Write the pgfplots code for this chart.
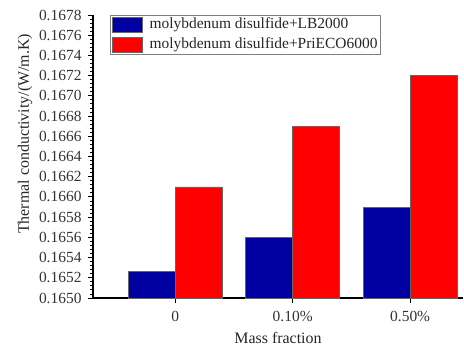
\documentclass[border=0pt]{standalone}
\usepackage{pgfplots}
\pgfplotsset{compat=1.18}
\usepackage{fontspec}
\setmainfont{Liberation Serif}
\definecolor{barblue}{RGB}{0,0,160}
\definecolor{barred}{RGB}{255,0,0}
\begin{document}
\begin{tikzpicture}
\path[use as bounding box] (-93bp,-49bp) rectangle (371bp,298bp);
\begin{axis}[
  scale only axis, width=370bp, height=283bp,
  ybar=0pt, bar width=0.4,
  xmin=-0.7, xmax=2.45, ymin=0.1650, ymax=0.1678,
  axis x line*=bottom, axis y line*=left,
  axis line style={line width=1.1pt},
  xtick={0,1,2}, xticklabels={0,0.10\%,0.50\%},
  ytick={0.1650,0.1652,0.1654,0.1656,0.1658,0.1660,0.1662,0.1664,0.1666,0.1668,0.1670,0.1672,0.1674,0.1676,0.1678},
  minor y tick num=4,
  tick align=outside,
  major tick length=5bp, minor tick length=3bp,
  tick style={line width=0.9pt, black},
  scaled y ticks=false,
  yticklabel style={/pgf/number format/fixed, /pgf/number format/fixed zerofill, /pgf/number format/precision=4, /pgf/number format/assume math mode=true, xshift=-3bp},
  tick label style={font=\fontsize{15.5}{17}\selectfont, text=black!80},
  xticklabel style={yshift=-5bp},
  xlabel={Mass fraction},
  ylabel={Thermal conductivity/(W/m.K)},
  label style={font=\fontsize{16}{18}\selectfont, text=black!85},
  xlabel style={at={(axis description cs:0.5,0)}, anchor=center, yshift=-40bp},
  ylabel style={at={(-68bp,0.58)}, anchor=center, rotate=0},
  legend style={at={(rel axis cs:0.046,1)}, anchor=north west, draw=black!50, line width=0.6pt,
    font=\fontsize{15.5}{16}\selectfont, text=black!85, inner xsep=2bp, inner ysep=2bp,
    row sep=4bp, cells={anchor=west},
    nodes={inner sep=0.8bp, text height=10.5bp, text depth=3.5bp}},
  legend image code/.code={\draw[#1] (0bp,-7.5bp) rectangle (30bp,7.5bp); \path (36bp,0bp);},
]
\addplot[fill=barblue, draw=black!60, line width=0.5pt] coordinates {(0,0.16526) (1,0.16560) (2,0.16590)};
\addplot[fill=barred, draw=black!60, line width=0.5pt] coordinates {(0,0.16610) (1,0.16670) (2,0.16720)};
\legend{molybdenum disulfide+LB2000, molybdenum disulfide+PriECO6000}
\end{axis}
\end{tikzpicture}
\end{document}
